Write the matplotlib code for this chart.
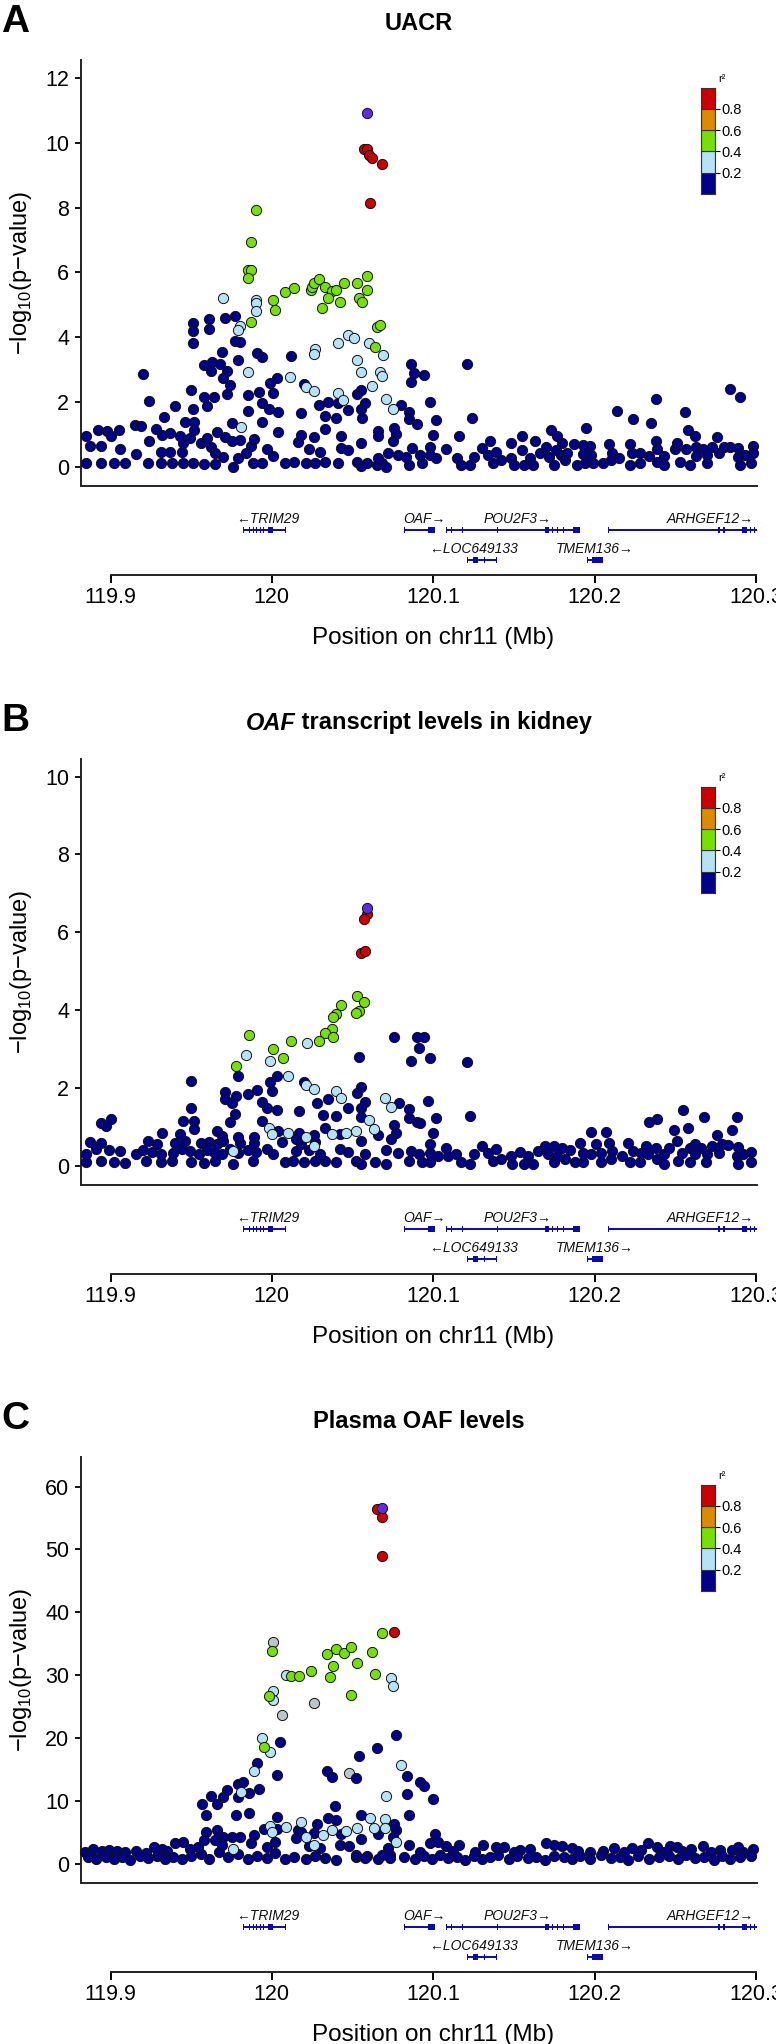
import matplotlib
matplotlib.use('Agg')
import matplotlib.pyplot as plt

FONT = ['Liberation Sans', 'DejaVu Sans']
plt.rcParams['font.family'] = FONT
plt.rcParams['mathtext.fontset'] = 'custom'
plt.rcParams['mathtext.rm'] = 'Liberation Sans'

# ---------------- data ----------------
# LD colour classes (r2 bins) and lead SNP
ld_breaks = [0.0, 0.2, 0.4, 0.6, 0.8, 1.0]
ld_colors = ['#00008B', '#B6E2F8', '#78E000', '#DC8A00', '#CC0000']
lead_color = '#5A2EE8'
grey_color = '#BCC6C8'

# Panel A: UACR  (position Mb, -log10 p)
A_navy = [
    (119.885, 0.10), (119.894, 0.10), (119.902, 0.12), (119.909, 0.10), (119.923, 0.10), (119.931, 0.10),
    (119.938, 0.12), (119.945, 0.12), (119.951, 0.12), (119.958, 0.08), (119.965, 0.08), (119.976, 0.00),
    (119.988, 0.12), (119.994, 0.12), (120.008, 0.10), (120.014, 0.14), (120.021, 0.12), (120.027, 0.12),
    (120.033, 0.14), (120.041, 0.12), (120.053, 0.14), (120.055, 0.02), (120.059, 0.10), (120.065, 0.05),
    (120.068, 0.10), (120.071, 0.00), (120.085, 0.05), (120.093, 0.10),
    (119.887, 0.64), (119.894, 0.65), (119.906, 0.53), (119.916, 0.39), (119.924, 0.78), (119.931, 0.46),
    (119.937, 0.44), (119.944, 0.44), (119.945, 0.72), (119.956, 0.72), (119.960, 0.87), (119.962, 0.60),
    (119.965, 0.41), (119.970, 0.29), (119.979, 0.26), (119.984, 0.41), (119.987, 0.64), (119.989, 0.85),
    (119.997, 0.53), (120.001, 0.33), (120.016, 0.77), (120.023, 0.53), (120.030, 0.46), (120.043, 0.57),
    (120.047, 0.51), (120.066, 0.26), (120.072, 0.43), (120.078, 0.36), (120.083, 0.29), (120.087, 0.57),
    (120.092, 0.36),
    (119.885, 0.93), (119.892, 1.13), (119.898, 1.11), (119.900, 0.93), (119.905, 1.13), (119.915, 1.29),
    (119.919, 1.26), (119.928, 1.15), (119.932, 0.98), (119.937, 1.05), (119.943, 0.95), (119.949, 0.87),
    (119.946, 1.39), (119.952, 1.39), (119.952, 1.13), (119.966, 1.08), (119.971, 0.90), (119.975, 1.36),
    (119.975, 0.80), (119.980, 0.82), (119.994, 1.37), (120.004, 1.08), (120.018, 0.98), (120.026, 0.91),
    (120.033, 1.16), (120.043, 0.93), (120.055, 0.74), (120.066, 1.11), (120.066, 0.93), (120.076, 1.20),
    (120.077, 1.00), (120.075, 0.80), (120.085, 1.70), (120.085, 1.46), (120.090, 1.32),
    (119.933, 1.54), (119.940, 1.87), (119.950, 2.37), (119.951, 1.77), (119.958, 2.16), (119.960, 1.87),
    (119.964, 2.16), (119.972, 2.24), (119.985, 1.72), (119.985, 2.21), (119.992, 2.29), (119.994, 1.95),
    (119.998, 1.77), (120.001, 2.26), (120.004, 1.70), (120.018, 1.67), (120.029, 1.90), (120.033, 1.57),
    (120.035, 2.01), (120.040, 1.51), (120.041, 1.95), (120.047, 1.75), (120.053, 2.24), (120.055, 2.37),
    (120.055, 1.77), (120.056, 1.49), (120.058, 1.95), (120.080, 1.90),
    (119.920, 2.86), (119.924, 2.02), (119.951, 4.42), (119.951, 4.19), (119.951, 3.83), (119.961, 4.55),
    (119.961, 4.24), (119.958, 3.14), (119.963, 3.24), (119.962, 2.96), (119.968, 3.17), (119.969, 3.53),
    (119.972, 2.96), (119.970, 2.73), (119.974, 2.52), (119.971, 4.58), (119.977, 4.66), (119.977, 3.88),
    (119.980, 3.84), (119.979, 3.29), (119.991, 3.50), (119.994, 3.40), (120.003, 2.73), (119.999, 2.57),
    (120.012, 3.42), (120.020, 2.55), (120.086, 3.17), (120.088, 2.88), (120.086, 2.60), (120.094, 2.83),
    (120.121, 3.17), (120.098, 1.98), (120.102, 1.44), (120.124, 1.49), (120.100, 0.98), (120.116, 0.93),
    (120.098, 0.62), (120.108, 0.53), (120.098, 0.36), (120.102, 0.26), (120.115, 0.26), (120.117, 0.05),
    (120.123, 0.05), (120.125, 0.29), (120.130, 0.57), (120.135, 0.80), (120.134, 0.36), (120.139, 0.46),
    (120.137, 0.10), (120.142, 0.21), (120.148, 0.72), (120.148, 0.26), (120.150, 0.05), (120.155, 0.96),
    (120.155, 0.51), (120.156, 0.05), (120.160, 0.26), (120.163, 0.79), (120.162, 0.05), (120.166, 0.41),
    (120.170, 0.62), (120.173, 1.13), (120.172, 0.29), (120.175, 0.05), (120.177, 0.96), (120.176, 0.51),
    (120.180, 0.74), (120.179, 0.36), (120.182, 0.19), (120.183, 0.41), (120.187, 0.70), (120.189, 0.05),
    (120.193, 0.67), (120.193, 0.39), (120.195, 1.20), (120.197, 0.64), (120.198, 0.36), (120.194, 0.10),
    (120.199, 0.10), (120.205, 0.10), (120.209, 0.70), (120.211, 0.41), (120.210, 0.19), (120.214, 1.73),
    (120.215, 0.26), (120.222, 0.69), (120.223, 0.43), (120.222, 0.05), (120.224, 1.46), (120.228, 0.41),
    (120.228, 0.10), (120.234, 0.33), (120.235, 1.34), (120.238, 2.10), (120.238, 0.80), (120.239, 0.54),
    (120.239, 0.15), (120.243, 0.33), (120.243, 0.05), (120.250, 0.54), (120.251, 0.74), (120.253, 0.14),
    (120.256, 1.69), (120.258, 1.13), (120.259, 0.05), (120.262, 0.93), (120.263, 0.62), (120.263, 0.33),
    (120.267, 0.54), (120.270, 0.36), (120.270, 0.10), (120.273, 0.62), (120.276, 0.91), (120.277, 0.41),
    (120.280, 0.62), (120.284, 2.41), (120.284, 0.62), (120.290, 2.14), (120.289, 0.57), (120.289, 0.29),
    (120.290, 0.05), (120.293, 0.36), (120.298, 0.65), (120.298, 0.41), (120.297, 0.10), (120.257, 0.54),
]
A_lblue = [
    (119.970, 5.22), (119.990, 5.16), (119.990, 5.04), (119.990, 4.81), (119.980, 4.34), (119.979, 4.22),
    (119.985, 2.91), (119.981, 1.23), (120.011, 2.76), (120.021, 2.47), (120.026, 2.35), (120.027, 3.62),
    (120.026, 3.47), (120.041, 3.83), (120.047, 4.06), (120.051, 3.96), (120.060, 3.81), (120.069, 3.45),
    (120.053, 3.29), (120.055, 2.93), (120.067, 2.91), (120.068, 2.81), (120.062, 2.49), (120.041, 2.26),
    (120.044, 2.06), (120.071, 2.09), (120.075, 1.79),
]
A_green = [
    (119.990, 7.92), (119.987, 6.94), (119.985, 6.07), (119.987, 6.07), (119.985, 5.84), (119.987, 4.48),
    (120.001, 5.14), (120.002, 4.84), (120.008, 5.38), (120.014, 5.52), (120.024, 5.45), (120.025, 5.56),
    (120.026, 5.66), (120.029, 5.79), (120.033, 5.56), (120.037, 5.43), (120.040, 5.47), (120.035, 5.20),
    (120.031, 4.91), (120.042, 5.09), (120.045, 5.66), (120.053, 5.68), (120.059, 5.90), (120.059, 5.45),
    (120.054, 5.22), (120.056, 5.09), (120.065, 4.32), (120.067, 4.37), (120.064, 3.70),
]
A_red = [(120.057, 9.82), (120.059, 9.80), (120.060, 9.62), (120.062, 9.54), (120.068, 9.36), (120.061, 8.15)]
A_lead = [(120.059, 10.93)]

# Panel B: OAF transcript levels in kidney
B_navy = [
    (119.885, 0.10), (119.894, 0.12), (119.902, 0.10), (119.909, 0.08), (119.922, 0.12), (119.931, 0.10),
    (119.938, 0.12), (119.950, 0.10), (119.958, 0.08), (119.965, 0.12), (119.976, 0.06), (119.988, 0.12),
    (120.008, 0.10), (120.013, 0.12), (120.020, 0.10), (120.027, 0.12), (120.033, 0.12), (120.040, 0.10),
    (120.052, 0.12), (120.055, 0.04), (120.064, 0.10), (120.071, 0.06), (120.085, 0.12), (120.093, 0.10),
    (119.885, 0.30), (119.891, 0.44), (119.899, 0.40), (119.906, 0.38), (119.916, 0.30), (119.920, 0.42),
    (119.926, 0.36), (119.931, 0.30), (119.939, 0.34), (119.944, 0.44), (119.949, 0.38), (119.955, 0.30),
    (119.960, 0.42), (119.964, 0.36), (119.969, 0.30), (119.974, 0.44), (119.979, 0.32), (119.985, 0.40),
    (119.990, 0.36), (119.997, 0.44), (120.001, 0.30), (120.015, 0.38), (120.023, 0.42), (120.030, 0.30),
    (120.042, 0.44), (120.047, 0.36), (120.058, 0.30), (120.071, 0.42), (120.078, 0.34), (120.086, 0.38),
    (120.091, 0.30),
    (119.887, 0.62), (119.894, 0.58), (119.923, 0.64), (119.929, 0.56), (119.940, 0.60), (119.946, 0.64),
    (119.956, 0.58), (119.961, 0.62), (119.966, 0.56), (119.970, 0.64), (119.980, 0.60), (119.989, 0.58),
    (120.006, 0.62), (120.018, 0.56), (120.027, 0.62),
    (120.076, 3.32), (120.090, 3.32), (120.094, 3.32), (120.091, 3.02), (120.086, 2.69), (120.054, 2.79),
    (119.950, 2.18), (119.979, 2.31), (120.003, 2.31), (119.999, 2.15), (120.000, 1.92), (119.991, 1.95),
    (119.985, 1.85), (119.971, 1.91), (119.978, 1.79), (119.971, 1.71), (119.975, 1.61), (120.020, 2.15),
    (120.055, 2.03), (120.053, 1.88), (120.035, 1.71), (120.028, 1.61), (120.058, 1.64), (120.055, 1.50),
    (120.055, 1.26), (119.994, 1.64), (119.997, 1.50), (120.003, 1.44), (120.017, 1.41), (120.032, 1.32),
    (120.040, 1.28), (120.047, 1.48), (120.079, 1.61), (120.085, 1.45), (120.085, 1.24), (120.090, 1.13),
    (119.950, 1.50), (119.977, 1.34), (119.974, 1.14), (119.945, 1.15), (119.952, 1.15), (119.952, 0.96),
    (119.894, 1.11), (119.897, 1.03), (119.900, 1.20), (119.932, 0.85), (119.943, 0.83), (119.966, 0.90),
    (119.969, 0.77), (119.979, 0.73), (119.989, 0.73), (119.994, 1.15), (120.004, 0.90), (120.015, 0.68),
    (120.017, 0.85), (120.026, 0.79), (120.033, 0.98), (120.042, 0.81), (120.055, 0.64), (120.066, 0.79),
    (120.076, 1.04), (120.077, 0.85), (120.074, 0.68),
    (120.098, 2.76), (120.121, 2.67), (120.097, 1.67), (120.102, 1.22), (120.100, 0.84), (120.123, 1.28),
    (120.092, 1.11), (120.098, 0.56), (120.098, 0.34), (120.098, 0.09), (120.103, 0.26), (120.108, 0.47),
    (120.109, 0.26), (120.114, 0.30), (120.117, 0.09), (120.123, 0.06), (120.125, 0.30), (120.130, 0.51),
    (120.134, 0.32), (120.137, 0.13), (120.139, 0.43), (120.142, 0.19), (120.148, 0.26), (120.149, 0.04),
    (120.154, 0.36), (120.156, 0.06), (120.159, 0.26), (120.162, 0.06), (120.165, 0.38), (120.169, 0.51),
    (120.171, 0.30), (120.175, 0.51), (120.175, 0.09), (120.177, 0.26), (120.180, 0.47), (120.182, 0.19),
    (120.185, 0.40), (120.188, 0.09), (120.191, 0.60), (120.193, 0.34), (120.193, 0.10), (120.198, 0.87),
    (120.201, 0.56), (120.198, 0.30), (120.204, 0.34), (120.204, 0.10), (120.207, 0.87), (120.209, 0.60),
    (120.211, 0.38), (120.210, 0.17), (120.217, 0.26), (120.221, 0.60), (120.222, 0.09), (120.224, 0.38),
    (120.228, 0.09), (120.229, 0.34), (120.232, 0.51), (120.234, 1.13), (120.233, 0.30), (120.239, 1.21),
    (120.238, 0.47), (120.239, 0.17), (120.243, 0.30), (120.243, 0.06), (120.246, 0.47), (120.249, 0.91),
    (120.251, 0.64), (120.252, 0.13), (120.255, 1.44), (120.254, 0.34), (120.258, 0.97), (120.259, 0.47),
    (120.259, 0.09), (120.262, 0.57), (120.262, 0.30), (120.266, 0.47), (120.268, 1.26), (120.270, 0.30),
    (120.269, 0.10), (120.273, 0.51), (120.276, 0.79), (120.277, 0.34), (120.279, 0.56), (120.283, 0.53),
    (120.285, 0.91), (120.288, 1.26), (120.289, 0.49), (120.288, 0.26), (120.289, 0.06), (120.292, 0.30),
    (120.297, 0.36), (120.297, 0.10),
]
B_lblue = [
    (120.022, 3.16), (119.984, 2.86), (119.999, 2.69), (120.010, 2.32), (120.021, 2.07), (120.026, 1.97),
    (120.040, 1.92), (120.043, 1.74), (120.070, 1.75), (120.074, 1.52), (120.060, 1.17), (120.063, 0.94),
    (120.052, 0.90), (120.046, 0.85), (120.037, 0.83), (120.010, 0.85), (119.998, 0.98), (120.000, 0.81),
    (120.021, 0.73), (120.026, 0.50), (119.976, 0.38),
]
B_green = [
    (120.053, 4.36), (120.057, 4.21), (120.054, 3.99), (120.052, 3.93), (120.043, 4.12), (120.040, 3.91),
    (120.038, 3.82), (120.037, 3.52), (120.033, 3.42), (120.038, 3.31), (120.029, 3.21), (120.012, 3.21),
    (119.986, 3.35), (120.001, 2.99), (120.007, 2.76), (119.978, 2.56),
]
B_red = [(120.059, 6.48), (120.057, 6.34), (120.055, 5.47), (120.058, 5.51)]
B_lead = [(120.059, 6.62)]

# Panel C: plasma OAF levels
C_navy = [
    (119.884, 1.8), (119.889, 2.3), (119.895, 2.1), (119.899, 2.2), (119.904, 2.0), (119.909, 1.9),
    (119.916, 2.1), (119.922, 1.7), (119.927, 2.6), (119.932, 2.3), (119.935, 2.0), (119.940, 3.3),
    (119.945, 3.5), (119.949, 2.4),
    (119.886, 1.0), (119.891, 0.7), (119.897, 1.1), (119.902, 0.8), (119.907, 1.0), (119.912, 0.6),
    (119.918, 1.2), (119.923, 0.9), (119.929, 1.3), (119.934, 0.7), (119.939, 1.1), (119.944, 0.8),
    (119.950, 1.2),
    (119.956, 1.5), (119.961, 0.8), (119.967, 1.9), (119.973, 1.0), (119.979, 1.6), (119.985, 0.7),
    (119.991, 1.2), (119.997, 0.9), (120.008, 0.8), (120.014, 1.1), (120.021, 0.7), (120.027, 1.3),
    (120.033, 0.9), (120.040, 0.6), (120.052, 1.0), (120.059, 1.2), (120.066, 0.8), (120.073, 1.4),
    (120.082, 1.1), (120.089, 0.7),
    (120.077, 20.4), (120.065, 18.4), (120.054, 17.2), (120.005, 19.3), (119.991, 16.0), (120.003, 14.1),
    (120.034, 14.8), (120.037, 13.8), (120.052, 13.7), (120.084, 14.0), (120.092, 13.0), (120.094, 12.4),
    (120.084, 11.1), (119.979, 12.7), (119.982, 13.0), (119.992, 11.9), (119.986, 11.3), (119.972, 11.7),
    (119.970, 10.6), (119.962, 10.8), (119.966, 9.5), (119.957, 9.5), (119.959, 7.8), (119.978, 7.7),
    (119.986, 8.0), (119.979, 10.6), (120.039, 9.1), (120.085, 7.8), (120.003, 7.4), (120.035, 7.2),
    (120.055, 7.8), (120.040, 6.9), (120.028, 6.3), (120.076, 6.3), (120.077, 5.3), (120.066, 4.8),
    (120.055, 3.9), (120.043, 4.8), (120.026, 4.9), (120.016, 5.4), (120.003, 5.6), (119.995, 5.6),
    (119.989, 4.5), (119.987, 3.3), (119.980, 4.2), (119.975, 4.3), (119.970, 4.2), (119.966, 5.4),
    (119.959, 5.1), (119.958, 3.8), (119.965, 3.8), (119.969, 3.0), (119.954, 2.7), (120.002, 3.5),
    (119.997, 2.7), (120.002, 1.7), (120.018, 5.1), (120.015, 4.1), (120.023, 2.8), (120.030, 2.5),
    (120.042, 3.0), (120.048, 2.8), (120.072, 2.5), (120.075, 4.3), (120.085, 2.9), (120.092, 1.9),
    (120.073, 0.9), (120.068, 1.4), (120.052, 1.4), (120.058, 0.9),
    (120.100, 10.3), (120.101, 4.7),
    (120.098, 3.3), (120.103, 3.4), (120.108, 2.8), (120.116, 3.0), (120.131, 3.0), (120.139, 2.7),
    (120.144, 2.6), (120.154, 2.2), (120.170, 3.3), (120.175, 2.9), (120.180, 2.8), (120.186, 2.5),
    (120.197, 1.9), (120.205, 2.1), (120.212, 2.5), (120.223, 2.5), (120.233, 3.3), (120.239, 2.7),
    (120.247, 2.8), (120.251, 2.7), (120.254, 2.1), (120.267, 2.8), (120.278, 2.2), (120.285, 2.2),
    (120.292, 1.9), (120.298, 2.3),
    (120.112, 2.0), (120.126, 1.8), (120.150, 1.9), (120.160, 2.4), (120.190, 2.0), (120.218, 1.8),
    (120.229, 2.2), (120.243, 1.9), (120.260, 2.3), (120.272, 1.8), (120.289, 2.6),
    (120.094, 1.2), (120.099, 0.7), (120.104, 1.4), (120.109, 0.9), (120.115, 1.1), (120.120, 0.6),
    (120.125, 1.3), (120.130, 0.8), (120.135, 1.0), (120.140, 1.4), (120.147, 0.7), (120.152, 1.2),
    (120.159, 0.9), (120.164, 1.1), (120.169, 0.6), (120.175, 1.3), (120.181, 1.0), (120.186, 0.8),
    (120.191, 1.2), (120.197, 0.7), (120.204, 1.4), (120.210, 0.9), (120.216, 1.1), (120.221, 0.6),
    (120.227, 1.3), (120.234, 0.8), (120.240, 1.0), (120.246, 1.2), (120.252, 0.7), (120.257, 1.4),
    (120.262, 0.9), (120.268, 1.1), (120.274, 0.6), (120.279, 1.3), (120.284, 0.8), (120.290, 1.0),
    (120.297, 1.2),
]
C_lblue = [
    (120.009, 30.0), (120.001, 27.5), (120.001, 26.0), (120.074, 29.5), (120.075, 28.2), (119.994, 20.0),
    (119.999, 17.7), (119.989, 14.7), (119.981, 11.4), (120.080, 15.7), (120.071, 10.8), (120.061, 7.2),
    (120.063, 5.7), (120.070, 7.1), (120.070, 5.7), (120.077, 3.4), (120.053, 5.7), (120.046, 5.2),
    (120.037, 5.4), (120.032, 4.6), (120.018, 6.6), (120.021, 4.3), (120.026, 2.9), (120.009, 5.9),
    (119.999, 6.0), (120.000, 5.0), (119.976, 2.4),
]
C_green = [
    (120.068, 36.7), (120.000, 33.9), (120.034, 33.4), (120.040, 34.1), (120.045, 33.5), (120.049, 34.4),
    (120.062, 33.6), (120.038, 31.5), (120.053, 31.9), (120.024, 30.6), (120.012, 29.9), (120.017, 29.9),
    (120.036, 29.7), (120.064, 30.1), (120.049, 26.8), (119.998, 26.6), (119.995, 18.5),
]
C_grey = [(120.001, 35.2), (120.006, 23.6), (120.026, 25.6), (120.048, 14.4)]
C_red = [(120.065, 56.4), (120.068, 55.1), (120.068, 48.9), (120.076, 36.9)]
C_lead = [(120.068, 56.66)]

# gene track
gene_names = ['TRIM29', 'OAF', 'POU2F3', 'ARHGEF12', 'LOC649133', 'TMEM136']
gene_start = [119.9823, 120.0820, 120.1079, 120.2083, 120.1209, 120.1953]
gene_end = [120.0086, 120.1014, 120.1911, 120.3011, 120.1393, 120.2051]
gene_strand = ['-', '+', '+', '+', '-', '+']
gene_row = [0, 0, 0, 0, 1, 1]
gene_label_pos = [119.9975, 120.0945, 120.1524, 120.2716, 120.1251, 120.1999]
gene_exons = [
    [(119.9823, 119.9829), (119.9860, 119.9866), (119.9881, 119.9887), (119.9903, 119.9909),
     (119.9924, 119.9930), (119.9946, 119.9952), (119.9978, 120.0004), (120.0080, 120.0086)],
    [(120.0820, 120.0826), (120.0967, 120.1014)],
    [(120.1079, 120.1085), (120.1111, 120.1117), (120.1176, 120.1182), (120.1398, 120.1404),
     (120.1694, 120.1716), (120.1738, 120.1744), (120.1770, 120.1776), (120.1802, 120.1808),
     (120.1867, 120.1911)],
    [(120.2083, 120.2089), (120.2564, 120.2570), (120.2763, 120.2775), (120.2796, 120.2806),
     (120.2914, 120.2946), (120.2966, 120.2972), (120.2988, 120.2994), (120.3005, 120.3011)],
    [(120.1209, 120.1215), (120.1247, 120.1278), (120.1317, 120.1323), (120.1387, 120.1393)],
    [(120.1953, 120.1959), (120.1975, 120.1981), (120.1985, 120.2051)],
]
pos_ticks = [119.9, 120.0, 120.1, 120.2, 120.3]
pos_ticklabels = ['119.9', '120', '120.1', '120.2', '120.3']

# ---------------- layout ----------------
W, H = 776, 2044
fig = plt.figure(figsize=(W / 100, H / 100), dpi=100)
XLIM = (119.8817, 120.3007)
GENE_C = '#0A0AB0'


def rect(left, top, width, height):
    return [left / W, 1 - (top + height) / H, width / W, height / H]


def fxy(x, y):
    return x / W, 1 - y / H


def draw_panel(off, letter, title, ylim, yticks, navy, lblue, green, red, lead, grey=()):
    fig.text(*fxy(1, off + 22), letter, fontsize=28, fontweight='bold', ha='left', va='center')
    if title is not None:
        fig.text(*fxy(419, off + 24), title, fontsize=17, fontweight='bold',
                 ha='center', va='center')

    ax = fig.add_axes(rect(81, off + 60, 676, 426))
    groups = [(grey, grey_color), (navy, ld_colors[0]), (lblue, ld_colors[1]),
              (green, ld_colors[2]), (red, ld_colors[4]), (lead, lead_color)]
    for pts, col in groups:
        if len(pts):
            x, y = zip(*pts)
            ax.scatter(x, y, s=54, c=col, edgecolors='#111111', linewidths=0.7, zorder=3, clip_on=False)
    ax.set_xlim(*XLIM)
    ax.set_ylim(*ylim)
    ax.set_yticks(yticks)
    ax.set_yticklabels([str(t) for t in yticks])
    ax.tick_params(axis='y', length=4.5, width=1.3, labelsize=15.5, pad=4)
    ax.tick_params(axis='x', bottom=False, labelbottom=False)
    for s in ('top', 'right'):
        ax.spines[s].set_visible(False)
    for s in ('left', 'bottom'):
        ax.spines[s].set_linewidth(1.4)
        ax.spines[s].set_color('#222222')
    ax.set_ylabel('\u2212log$_{\\mathregular{10}}$(p\u2212value)', fontsize=17)
    ax.yaxis.set_label_coords((21 - 81) / 676, 0.5)
    ax.yaxis.label.set_va('center')

    # r2 legend
    cax = fig.add_axes(rect(701, off + 87.7, 14, 106.3))
    for i, c in enumerate(ld_colors):
        cax.bar(0.5, ld_breaks[i + 1] - ld_breaks[i], bottom=ld_breaks[i], width=1,
                color=c, edgecolor='#333333', linewidth=0.8)
    cax.set_xlim(0, 1)
    cax.set_ylim(0, 1)
    cax.set_xticks([])
    cax.yaxis.tick_right()
    cax.set_yticks(ld_breaks[1:-1])
    cax.set_yticklabels([f'{b:.1f}' for b in ld_breaks[1:-1]])
    cax.tick_params(axis='y', length=3.5, width=0.8, labelsize=10.5, pad=1)
    for s in cax.spines.values():
        s.set_color('#333333')
        s.set_linewidth(0.8)
    fig.text(*fxy(722, off + 79), 'r\u00b2', fontsize=8, ha='center', va='center')

    # gene track + position axis (rows: 0 at 530 px, 1 at 560 px)
    gx = fig.add_axes(rect(81, off + 495, 676, 80))
    gx.set_xlim(*XLIM)
    gx.set_ylim(1.5, -1.1667)
    for name, s, e, strand, row, lp, exons in zip(gene_names, gene_start, gene_end, gene_strand,
                                                  gene_row, gene_label_pos, gene_exons):
        gx.hlines(row, s, min(e, XLIM[1]), color=GENE_C, lw=1.4)
        gx.broken_barh([(a, b - a) for a, b in exons], (row - 0.1, 0.2), color=GENE_C, lw=0)
        lab = ('\u2190' + name) if strand == '-' else (name + '\u2192')
        gx.text(lp, row - 0.37, lab, fontsize=10, fontstyle='italic', ha='center', va='center',
                color='#111111')
    for s in ('top', 'right', 'left'):
        gx.spines[s].set_visible(False)
    gx.spines['bottom'].set_bounds(pos_ticks[0], pos_ticks[-1])
    gx.spines['bottom'].set_linewidth(1.4)
    gx.spines['bottom'].set_color('#222222')
    gx.set_yticks([])
    gx.set_xticks(pos_ticks)
    gx.set_xticklabels(pos_ticklabels)
    gx.tick_params(axis='x', length=5.5, width=1.4, labelsize=15.5, pad=3)
    gx.set_xlabel('Position on chr11 (Mb)', fontsize=17.5)
    gx.xaxis.set_label_coords((433 - 81) / 676, (575 - 638) / 80)
    gx.xaxis.label.set_va('center')
    gx.patch.set_visible(False)
    return ax


draw_panel(0, 'A', 'UACR', (-0.6, 12.56), [0, 2, 4, 6, 8, 10, 12],
           A_navy, A_lblue, A_green, A_red, A_lead)
draw_panel(699, 'B', None, (-0.49, 10.45), [0, 2, 4, 6, 8, 10],
           B_navy, B_lblue, B_green, B_red, B_lead)
draw_panel(1397, 'C', 'Plasma OAF levels', (-3.07, 64.7), [0, 10, 20, 30, 40, 50, 60],
           C_navy, C_lblue, C_green, C_red, C_lead, C_grey)

# panel B title with italic gene symbol
t1 = fig.text(0, 0, 'OAF', fontsize=17, fontweight='bold', fontstyle='italic', va='center')
t2 = fig.text(0, 0, ' transcript levels in kidney', fontsize=17, fontweight='bold', va='center')
rend = fig.canvas.get_renderer()
w1 = t1.get_window_extent(rend).width
w2 = t2.get_window_extent(rend).width
x0 = 419 - (w1 + w2) / 2
t1.set_position(fxy(x0, 699 + 24))
t2.set_position(fxy(x0 + w1, 699 + 24))

fig.savefig('out.png', dpi=100)
